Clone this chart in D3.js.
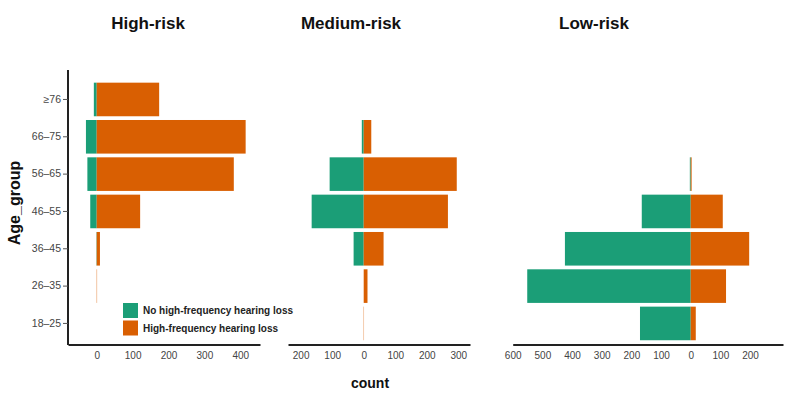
<!DOCTYPE html>
<html><head><meta charset="utf-8">
<script src="https://cdn.jsdelivr.net/npm/d3@7"></script>
<style>body{margin:0;background:#fff}svg{display:block}text{font-family:"Liberation Sans",Arial,sans-serif}</style>
</head><body><svg id="c" width="790" height="398"></svg>
<script>
const categories = ["≥76","66–75","56–65","46–55","36–45","26–35","18–25"];
const seriesNames = ["No high-frequency hearing loss","High-frequency hearing loss"];
const panels = ["High-risk","Medium-risk","Low-risk"];
const highNo  = [8, 30, 26, 18, 1, 0, 0];
const highYes = [174, 415, 382, 121, 9, 1, 0];
const medNo   = [0, 6, 108, 165, 32, 0, 0];
const medYes  = [0, 24, 295, 267, 63, 12, 1];
const lowNo   = [0, 0, 3, 165, 424, 551, 171];
const lowYes  = [0, 0, 3, 108, 197, 119, 17];
const highTicks = [0,100,200,300,400];
const medTicks  = [-200,-100,0,100,200,300];
const lowTicks  = [-600,-500,-400,-300,-200,-100,0,100,200];

const colors = ["#1b9e77","#d95f02"];
const svg = d3.select("#c");
const y = d3.scaleBand().domain(categories).range([80.8,342.1]).paddingInner(0.1).paddingOuter(0.05);

const cfg = [
  {name:panels[0], no:highNo, yes:highYes, ticks:highTicks, dom:[-80,455], rng:[68,260], title:148},
  {name:panels[1], no:medNo, yes:medYes, ticks:medTicks, dom:[-240,337], rng:[288,470], title:351},
  {name:panels[2], no:lowNo, yes:lowYes, ticks:lowTicks, dom:[-600,311], rng:[512.7,783], title:594}
];
const axisY = 344.5;
cfg.forEach(p => {
  const x = d3.scaleLinear().domain(p.dom).range(p.rng);
  const g = svg.append("g");
  categories.forEach((c,i) => {
    g.append("rect").attr("x", x(-p.no[i])).attr("y", y(c)).attr("width", x(0)-x(-p.no[i]))
      .attr("height", y.bandwidth()).attr("fill", colors[0]);
    g.append("rect").attr("x", x(0)).attr("y", y(c)).attr("width", x(p.yes[i])-x(0))
      .attr("height", y.bandwidth()).attr("fill", colors[1]);
  });
  const ax = g.append("g").attr("transform",`translate(0,${axisY})`)
    .call(d3.axisBottom(x).tickValues(p.ticks).tickFormat(d=>Math.abs(d)).tickSize(0).tickPadding(7));
  ax.select(".domain").attr("stroke","#222").attr("stroke-width",2);
  ax.selectAll("text").attr("fill","#444").attr("font-size",10).style("font-family","Liberation Sans, Arial, sans-serif");
  svg.append("text").attr("x",p.title).attr("y",29).attr("text-anchor","middle")
    .attr("font-size",17).attr("font-weight","bold").attr("fill","#111").text(p.name);
});

// y axis on first panel
const ya = svg.append("g").attr("transform","translate(68,0)")
  .call(d3.axisLeft(y).tickSize(5).tickPadding(2).tickSizeOuter(0));
ya.select(".domain").attr("d","M0,70V345").attr("stroke","#222").attr("stroke-width",2);
ya.selectAll(".tick line").attr("stroke","#555");
ya.selectAll("text").attr("fill","#444").attr("font-size",10.5).style("font-family","Liberation Sans, Arial, sans-serif");

svg.append("text").attr("transform","translate(20,203) rotate(-90)").attr("text-anchor","middle")
  .attr("font-size",16).attr("font-weight","bold").attr("fill","#111").text("Age_group");
svg.append("text").attr("x",370).attr("y",388).attr("text-anchor","middle")
  .attr("font-size",14).attr("font-weight","bold").attr("fill","#111").text("count");

// legend
const lg = svg.append("g").attr("transform","translate(123,303)");
seriesNames.forEach((s,i) => {
  lg.append("rect").attr("x",0).attr("y",i*17.5).attr("width",15).attr("height",15).attr("fill",colors[i]);
  lg.append("text").attr("x",20).attr("y",i*17.5+11).attr("font-size",10).attr("font-weight","bold")
    .attr("fill","#222").text(s);
});
</script></body></html>
